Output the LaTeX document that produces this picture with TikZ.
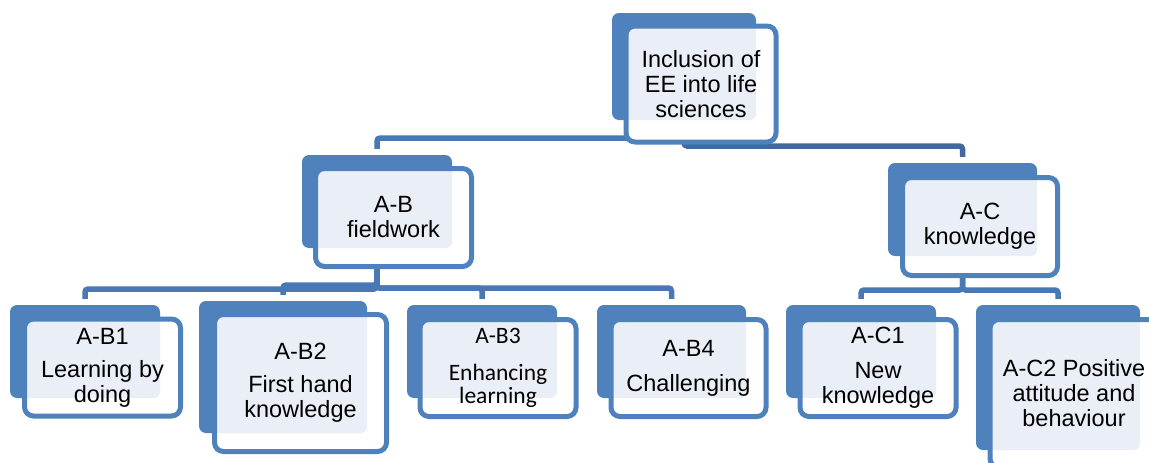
\documentclass[tikz,border=0pt]{standalone}
\usepackage{fontspec}
\setmainfont{Liberation Sans}
\newfontfamily\calfont{Carlito}
\pgfdeclarelayer{back}
\pgfsetlayers{back,main}
\definecolor{boxblue}{HTML}{4F81BD}
\definecolor{linkblue}{HTML}{4A78B4}
\definecolor{linkdark}{HTML}{41699E}
\definecolor{boxfill}{HTML}{EAEFF7}
\tikzset{
  shade box/.style={fill=boxblue, rounded corners=7, inner sep=0},
  card/.style={draw=boxblue, line width=5, fill=white, rounded corners=9,
    inner sep=0, align=center, font=\fontsize{23.5}{25}\selectfont,
    path picture={\fill[boxfill, rounded corners=7] (#1.south west) rectangle (#1.north east);}},
  link/.style={draw=linkblue, line width=5.5, rounded corners=3},
}
\begin{document}
\begin{tikzpicture}[x=1pt, y=-1pt]
      \useasboundingbox (0,0) rectangle (1149,463);
      \clip (0,0) rectangle (1149,463);
      % top
      \node[shade box, minimum width=144, minimum height=107] (inclbk) at (684,66.5) {};
      \node[card=inclbk, minimum width=150, minimum height=116] (incl) at (701,84) {Inclusion of\\EE into life\\sciences};
      % second row
      \node[shade box, minimum width=150, minimum height=93] (abbk) at (377,201.5) {};
      \node[card=abbk, minimum width=156, minimum height=98] (ab) at (393.5,217.5) {A-B\\fieldwork};
      \node[shade box, minimum width=149, minimum height=93] (acbk) at (962.5,209.5) {};
      \node[card=acbk, minimum width=155, minimum height=98] (ac) at (980,226.5) {A-C\\knowledge};
      % third row
      \node[shade box, minimum width=150, minimum height=93] (ab1bk) at (85,351.5) {};
      \node[card=ab1bk, minimum width=156, minimum height=97] (ab1) at (102.5,367.5) {A-B1\\[8pt]Learning by\\doing};
      \node[shade box, minimum width=168, minimum height=132] (ab2bk) at (283,367) {};
      \node[card=ab2bk, minimum width=172, minimum height=137] (ab2) at (300.5,383) {A-B2\\[8pt]First hand\\knowledge};
      \node[shade box, minimum width=150, minimum height=93] (ab3bk) at (482,351.5) {};
      \node[card=ab3bk, minimum width=156, minimum height=97, font=\calfont\fontsize{23.5}{23}\selectfont] (ab3) at (498,368) {A-B3\\[14pt]Enhancing\\learning};
      \node[shade box, minimum width=149, minimum height=93] (ab4bk) at (671.5,351.5) {};
      \node[card=ab4bk, minimum width=155, minimum height=97] (ab4) at (688.5,368) {A-B4\\[10pt]Challenging};
      \node[shade box, minimum width=150, minimum height=93] (ac1bk) at (861,351.5) {};
      \node[card=ac1bk, minimum width=156, minimum height=97] (ac1) at (878,368) {A-C1\\[10pt]New\\knowledge};
      \node[shade box, minimum width=164, minimum height=145] (ac2bk) at (1058,377.5) {};
      \node[card=ac2bk, minimum width=168, minimum height=148] (ac2) at (1074,393.5) {A-C2 Positive\\attitude and\\behaviour};
      % connectors
      \begin{pgfonlayer}{back}
      \draw[link] (inclbk.center) -- ++(0,71.5) -| ([yshift=6]abbk.north);
      \draw[link, draw=linkdark] (inclbk.center) -- ++(0,79.5) -| ([yshift=6]acbk.north);
      \draw[link] (abbk.center) -- ++(0,87.5) -| ([yshift=6]ab1bk.north);
      \draw[link] (abbk.center) -- ++(0,83.5) -| ([yshift=6]ab2bk.north);
      \draw[link] (abbk.center) -- ++(0,86.5) -| ([yshift=6]ab3bk.north);
      \draw[link] (abbk.center) -- ++(0,86.5) -| ([yshift=6]ab4bk.north);
      \draw[link] (acbk.center) -- ++(0,80.5) -| ([yshift=6]ac1bk.north);
      \draw[link] (acbk.center) -- ++(0,80.5) -| ([yshift=6]ac2bk.north);
      \end{pgfonlayer}
\end{tikzpicture}
\end{document}
